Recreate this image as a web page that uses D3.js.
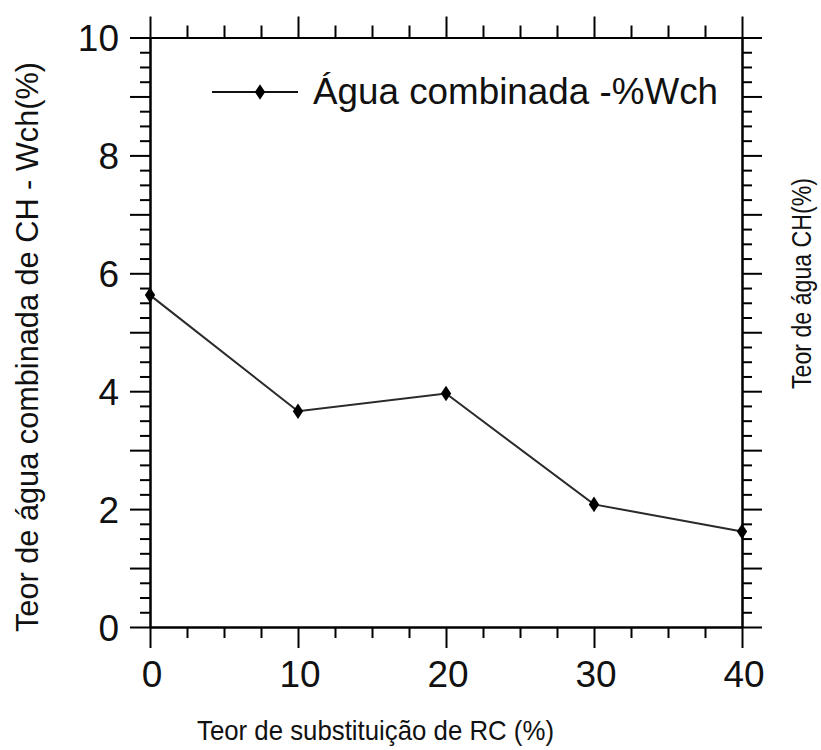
<!DOCTYPE html>
<html><head><meta charset="utf-8">
<script src="https://cdn.jsdelivr.net/npm/d3@7"></script>
<style>
html,body{margin:0;padding:0;background:#fff;}
svg{display:block;}
text{font-family:"Liberation Sans",Arial,sans-serif;fill:#111;}
</style></head>
<body>
<svg id="chart" width="821" height="750"></svg>
<script>
const substitution = [0, 10, 20, 30, 40];
const waterCombined = [5.63, 3.66, 3.96, 2.08, 1.62];
const xTickLabels = ["0", "10", "20", "30", "40"];
const yTickLabelValues = [0, 2, 4, 6, 8, 10];
const seriesName = "Água combinada -%Wch";
const xTitle = "Teor de substituição de RC (%)";
const yTitle = "Teor de água combinada de CH - Wch(%)";
const yTitleRight = "Teor de água CH(%)";

const svg = d3.select("#chart");
const L = 150, R = 742, T = 37.5, B = 627;
const x = d3.scaleLinear().domain([0, 40]).range([L, R]);
const y = d3.scaleLinear().domain([0, 10]).range([B, T]);

const xMajor = d3.range(0, 41, 10);
const xMinor = d3.range(0, 40.01, 2.5).filter(v => v % 10 !== 0);
const yMajor = d3.range(0, 10.01, 1);
const yMinor = d3.range(0, 10.01, 0.25).filter(v => Math.abs(v - Math.round(v)) > 1e-6);

function styleAxis(g){
  g.select(".domain").attr("stroke","#000").attr("stroke-width",2);
  g.selectAll(".tick line").attr("stroke","#000").attr("stroke-width",2);
  g.selectAll(".tick text").remove();
}
// bottom
svg.append("g").attr("transform",`translate(0,${B})`)
  .call(d3.axisBottom(x).tickValues(xMajor).tickSize(21).tickSizeOuter(0).tickFormat("")).call(styleAxis);
svg.append("g").attr("transform",`translate(0,${B})`)
  .call(d3.axisBottom(x).tickValues(xMinor).tickSize(11).tickSizeOuter(0).tickFormat("")).call(styleAxis);
// top
svg.append("g").attr("transform",`translate(0,${T})`)
  .call(d3.axisTop(x).tickValues(xMajor).tickSize(21).tickSizeOuter(0).tickFormat("")).call(styleAxis);
svg.append("g").attr("transform",`translate(0,${T})`)
  .call(d3.axisTop(x).tickValues(xMinor).tickSize(12).tickSizeOuter(0).tickFormat("")).call(styleAxis);
// left
svg.append("g").attr("transform",`translate(${L},0)`)
  .call(d3.axisLeft(y).tickValues(yMajor).tickSize(20).tickSizeOuter(0).tickFormat("")).call(styleAxis);
svg.append("g").attr("transform",`translate(${L},0)`)
  .call(d3.axisLeft(y).tickValues(yMinor).tickSize(10).tickSizeOuter(0).tickFormat("")).call(styleAxis);
// right
svg.append("g").attr("transform",`translate(${R},0)`)
  .call(d3.axisRight(y).tickValues(yMajor).tickSize(20).tickSizeOuter(0).tickFormat("")).call(styleAxis);
svg.append("g").attr("transform",`translate(${R},0)`)
  .call(d3.axisRight(y).tickValues(yMinor).tickSize(10).tickSizeOuter(0).tickFormat("")).call(styleAxis);

// tick labels
svg.append("g").selectAll("text").data(xMajor).join("text")
  .attr("x", d => x(d) + 2).attr("y", 687)
  .attr("text-anchor","middle").attr("font-size",37)
  .text((d,i) => xTickLabels[i]);
svg.append("g").selectAll("text").data(yTickLabelValues).join("text")
  .attr("x", 119).attr("y", d => y(d) + 13.5)
  .attr("text-anchor","end").attr("font-size",37)
  .text(d => d);

// line
const pts = substitution.map((s,i) => [s, waterCombined[i]]);
svg.append("path").datum(pts)
  .attr("fill","none").attr("stroke","#2a2a2a").attr("stroke-width",2)
  .attr("d", d3.line().x(d => x(d[0])).y(d => y(d[1])));
const sym = d3.symbol().type(d3.symbolDiamond).size(70);
svg.append("g").selectAll("path").data(pts).join("path")
  .attr("transform", d => `translate(${x(d[0])},${y(d[1])}) scale(1.15,1)`)
  .attr("d", sym).attr("fill","#000");

// legend
svg.append("line").attr("x1",212).attr("x2",298).attr("y1",92).attr("y2",92)
  .attr("stroke","#111").attr("stroke-width",2);
svg.append("path").attr("transform","translate(260,92) scale(1.15,1)").attr("d",sym).attr("fill","#000");
svg.append("text").attr("x",313).attr("y",104).attr("font-size",37)
  .attr("textLength",405).attr("lengthAdjust","spacingAndGlyphs").text(seriesName);

// axis titles
svg.append("text").attr("x",197).attr("y",740).attr("font-size",28)
  .attr("textLength",357).attr("lengthAdjust","spacingAndGlyphs").text(xTitle);
svg.append("text").attr("transform","translate(38,632) rotate(-90)")
  .attr("font-size",32).attr("textLength",570).attr("lengthAdjust","spacingAndGlyphs").text(yTitle);
svg.append("text").attr("transform","translate(811,389) rotate(-90)")
  .attr("font-size",27).attr("textLength",211).attr("lengthAdjust","spacingAndGlyphs").text(yTitleRight);
</script>
</body></html>
